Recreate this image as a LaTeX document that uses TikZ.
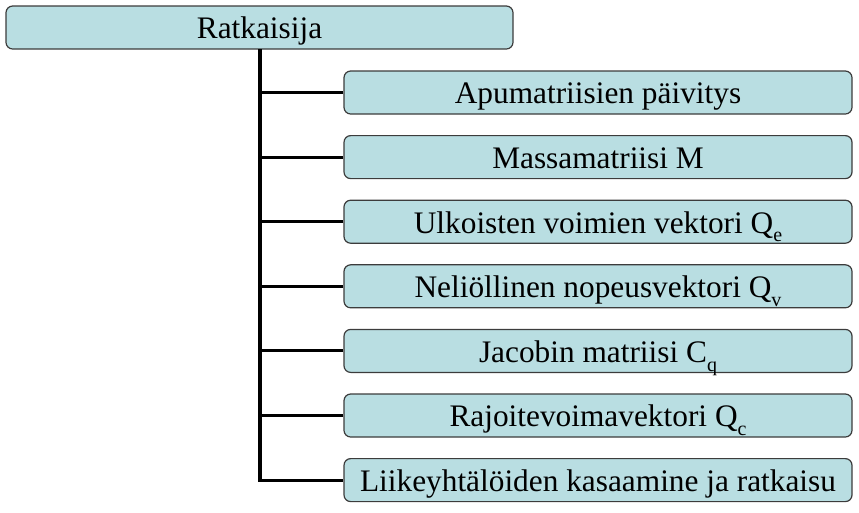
\documentclass[tikz,border=0pt]{standalone}
\usepackage{fontspec}
\setmainfont{Liberation Serif}
\definecolor{boxfill}{RGB}{185,222,226}
\definecolor{boxline}{RGB}{60,60,60}
\newcommand{\mysub}[1]{\raisebox{-0.28em}{\fontsize{15}{15}\selectfont #1}}
\tikzset{
  treebox/.style={draw=boxline, line width=0.9pt, fill=boxfill, rounded corners=5pt,
    minimum height=43*0.75pt, inner sep=0pt, font=\fontsize{23.5}{26}\selectfont,
    text height=19.6pt, text depth=2.6pt, anchor=center},
  topbox/.style={treebox, minimum width=507*0.75pt},
  childbox/.style={treebox, minimum width=508*0.75pt},
  treeline/.style={line width=2.3pt, black}
}
\begin{document}
\begin{tikzpicture}[x=0.75pt,y=-0.75pt]
\useasboundingbox (0,0) rectangle (859,512);
\node[topbox] (root) at (259.5,27.5) {Ratkaisija};
\node[childbox] (c1) at (598,92.5) {Apumatriisien päivitys};
\node[childbox] (c2) at (598,157.1) {Massamatriisi M};
\node[childbox] (c3) at (598,221.7) {Ulkoisten voimien vektori Q\mysub{e}};
\node[childbox] (c4) at (598,286.3) {Neliöllinen nopeusvektori Q\mysub{v}};
\node[childbox] (c5) at (598,350.9) {Jacobin matriisi C\mysub{q}};
\node[childbox] (c6) at (598,415.5) {Rajoitevoimavektori Q\mysub{c}};
\node[childbox] (c7) at (598,480.1) {Liikeyhtälöiden kasaamine ja ratkaisu};
\coordinate (t0) at (260,49);
\coordinate (tend) at (260,480.1);
\draw[treeline] (t0) -- (tend) -- (c7.west);
\foreach \i in {1,...,6}{
  \draw[treeline] (c\i.west) -- (c\i.west -| t0);
}
\end{tikzpicture}
\end{document}
